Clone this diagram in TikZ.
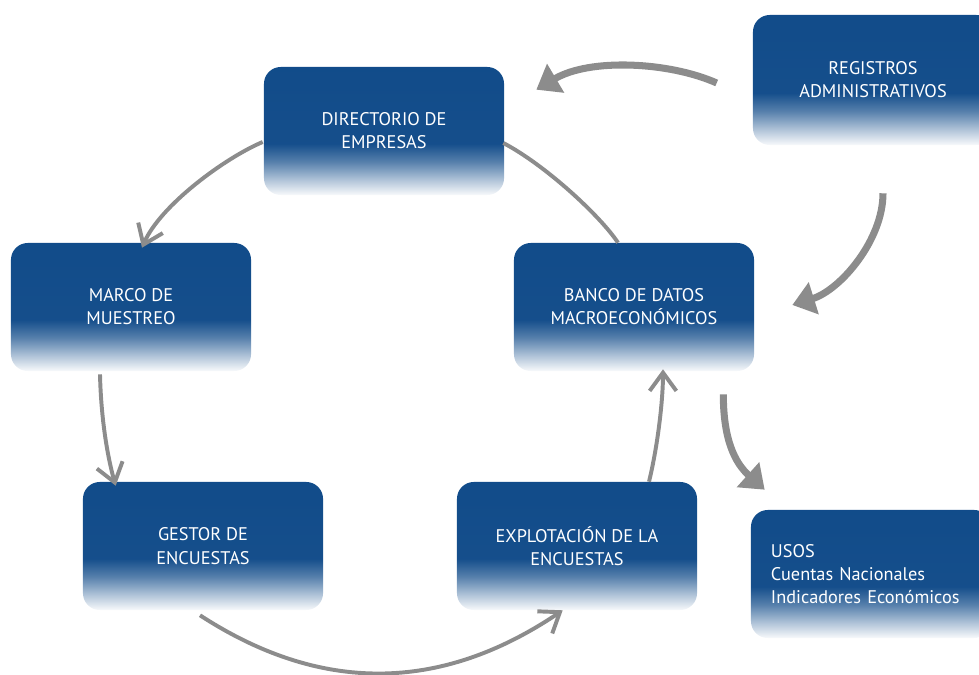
\documentclass[tikz,border=0pt]{standalone}
\usepackage{fontspec}
\setmainfont{PT Sans}
\usetikzlibrary{arrows.meta}

\definecolor{boxblue}{RGB}{14,73,136}
\definecolor{arrowgray}{RGB}{140,140,140}
\pgfdeclareverticalshading{boxfade}{100bp}{color(0bp)=(white); color(25bp)=(boxblue!3); color(31bp)=(boxblue!33); color(38bp)=(boxblue!70); color(45bp)=(boxblue!97); color(100bp)=(boxblue)}

\begin{document}
\begin{tikzpicture}[x=0.025cm,y=-0.025cm,
	box/.style={rectangle,rounded corners=0.42cm,minimum width=6cm,minimum height=3.2cm,shading=boxfade,text=white,align=center,font=\fontsize{13}{16.5}\selectfont},
	bigarrow/.style={draw=arrowgray,line width=5pt,-{Triangle[length=16pt,width=23pt]}},
	cyclearrow/.style={draw=arrowgray,line width=2.8pt,-{Straight Barb[length=13pt,width=19pt]}},
	cycleline/.style={draw=arrowgray,line width=2.8pt}]
	\useasboundingbox (0,0) rectangle (979,675); %frame

	%boxes
	\node[box] (dir) at (384,131) {DIRECTORIO DE\\EMPRESAS}; %directorio
	\node[box,minimum height=3.25cm] (reg) at (873,80) {REGISTROS\\ADMINISTRATIVOS}; %registros
	\node[box] (marco) at (131,307) {MARCO DE\\MUESTREO}; %marco
	\node[box] (banco) at (634,307) {BANCO DE DATOS\\MACROECON\'OMICOS}; %banco
	\node[box] (gestor) at (203,546) {GESTOR DE\\ENCUESTAS}; %gestor
	\node[box] (explot) at (577,546) {EXPLOTACI\'ON DE LA\\ENCUESTAS}; %explotacion
	\node[box,align=left,text width=5cm] (usos) at (871,574) {USOS\\Cuentas Nacionales\\Indicadores Econ\'omicos}; %usos

	%outer arrows
	\draw[bigarrow] ([shift={(-36,3)}]reg.west) .. controls +(-47,-21) and +(54,-32) .. ([shift={(32,23)}]dir.north east); %registros to directorio
	\draw[bigarrow] ([shift={(10,48)}]reg.south) .. controls +(0,47) and +(48,-15) .. ([shift={(38,-2)}]banco.east); %registros to banco
	\draw[bigarrow] ([shift={(-31,23)}]banco.south east) .. controls +(0,45) and +(-30,-27) .. ([shift={(14,-20)}]usos.north west); %banco to usos

	%cycle
	\draw[cyclearrow] ([shift={(-1,11)}]dir.west) .. controls +(-38,16) and +(18,-42) .. ([shift={(11,5)}]marco.north); %directorio to marco
	\draw[cyclearrow] ([shift={(-31,3)}]marco.south) .. controls +(1,45) and +(-8,-28) .. ([shift={(33,4)}]gestor.north west); %marco to gestor
	\draw[cyclearrow] ([shift={(-3,5)}]gestor.south) .. controls +(120,78) and +(-123,83) .. ([shift={(106,0)}]explot.south west); %gestor to explotacion
	\draw[cyclearrow] ([shift={(72,0)}]explot.north) .. controls +(9,-37) and +(0,30) .. ([shift={(29,-2)}]banco.south); %explotacion to banco
	\draw[cycleline] ([shift={(-16,0)}]banco.north) .. controls +(-18,-27) and +(42,22) .. ([shift={(-1,12)}]dir.east); %banco to directorio
\end{tikzpicture}
\end{document}
